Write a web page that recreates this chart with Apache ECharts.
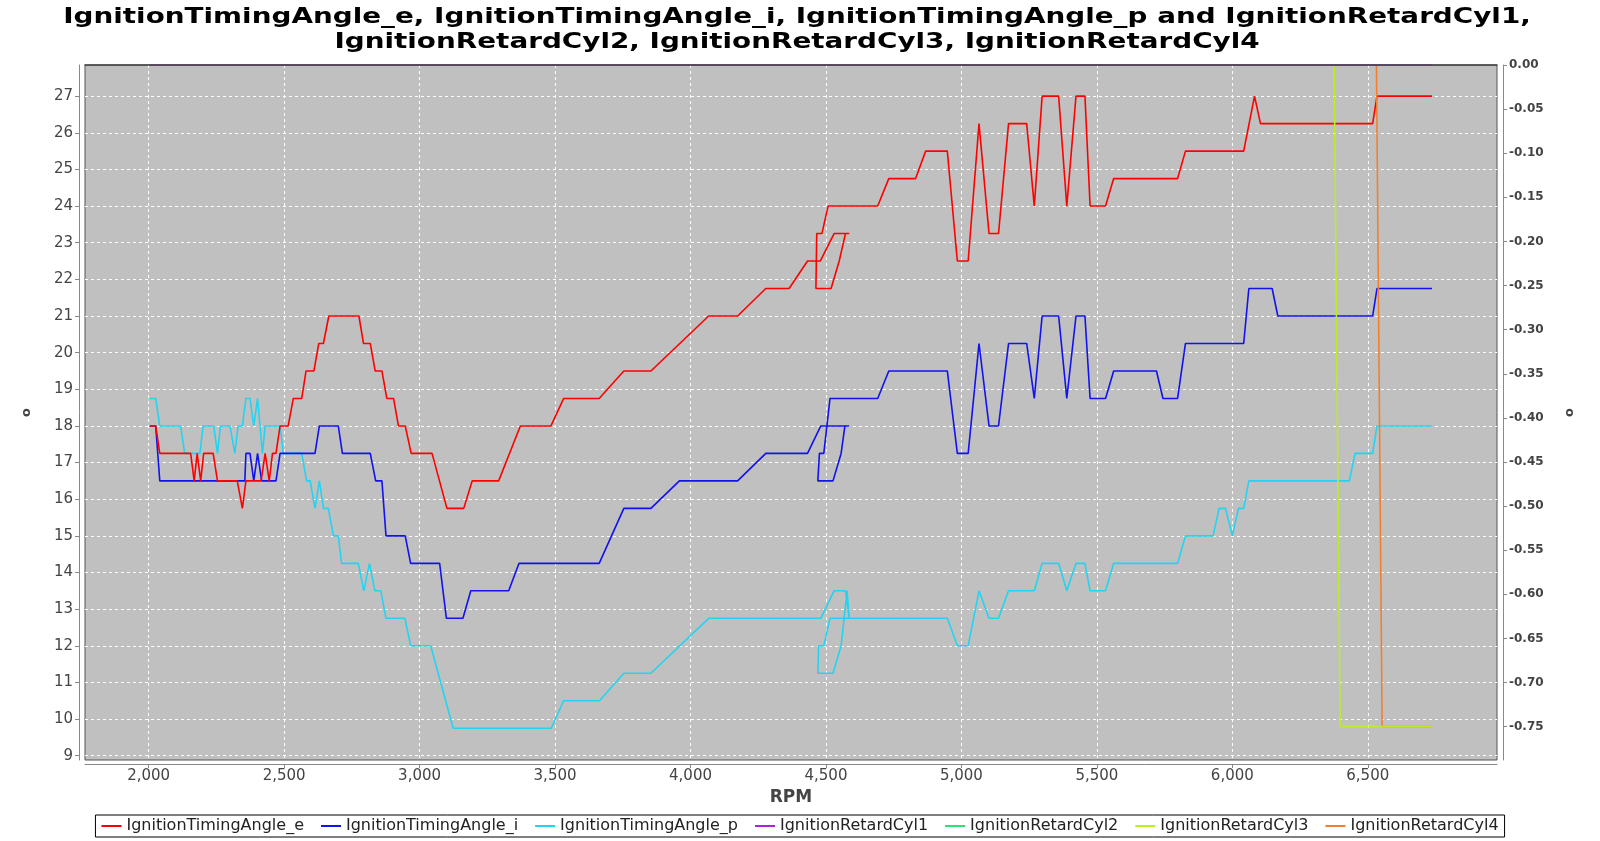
<!DOCTYPE html>
<html>
<head>
<meta charset="utf-8">
<script src="https://cdn.jsdelivr.net/npm/echarts@6.0.0/dist/echarts.min.js"></script>
<style>
html,body{margin:0;padding:0;background:#fff;}
#chart{width:1600px;height:841px;}
</style>
</head>
<body>
<div id="chart"></div>
<script>
// ---------- text ----------
const titleLines = [
  "IgnitionTimingAngle_e, IgnitionTimingAngle_i, IgnitionTimingAngle_p and IgnitionRetardCyl1,",
  "IgnitionRetardCyl2, IgnitionRetardCyl3, IgnitionRetardCyl4"
];
const seriesNames = [
  "IgnitionTimingAngle_e", "IgnitionTimingAngle_i", "IgnitionTimingAngle_p",
  "IgnitionRetardCyl1", "IgnitionRetardCyl2", "IgnitionRetardCyl3", "IgnitionRetardCyl4"
];
const xAxisName = "RPM";
const leftAxisName = "o";
const rightAxisName = "o";

// ---------- tick labels ----------
const xTicks = [2000, 2500, 3000, 3500, 4000, 4500, 5000, 5500, 6000, 6500];
const leftTicks = [9, 10, 11, 12, 13, 14, 15, 16, 17, 18, 19, 20, 21, 22, 23, 24, 25, 26, 27];
const rightTicks = [-0.75, -0.70, -0.65, -0.60, -0.55, -0.50, -0.45, -0.40, -0.35, -0.30,
                    -0.25, -0.20, -0.15, -0.10, -0.05, 0];

// ---------- series values: [RPM, value] in logged order ----------
const angleE = [
  [2004,18],[2026,18],[2041,17.25],[2155,17.25],[2168,16.5],[2179,17.25],[2192,16.5],[2203,17.25],
  [2238,17.25],[2254,16.5],[2327,16.5],[2346,15.75],[2359,16.5],[2415,16.5],[2430,17.25],[2445,16.5],
  [2457,17.25],[2470,17.25],[2485,18],[2515,18],[2534,18.75],[2565,18.75],[2581,19.5],[2610,19.5],
  [2628,20.25],[2645,20.25],[2665,21],[2776,21],[2793,20.25],[2818,20.25],[2836,19.5],[2861,19.5],
  [2879,18.75],[2904,18.75],[2922,18],[2947,18],[2969,17.25],[3046,17.25],[3101,15.75],[3163,15.75],
  [3194,16.5],[3292,16.5],[3372,18],[3485,18],[3532,18.75],[3663,18.75],[3754,19.5],[3854,19.5],
  [4067,21],[4174,21],[4278,21.75],[4364,21.75],[4432,22.5],[4479,22.5],[4530,23.25],[4586,23.25],
  [4572,23.25],[4549,22.5],[4519,21.75],[4463,21.75],[4466,23.25],[4485,23.25],[4508,24],[4691,24],
  [4732,24.75],[4831,24.75],[4868,25.5],[4948,25.5],[4985,22.5],[5025,22.5],[5065,26.25],[5102,23.25],
  [5137,23.25],[5174,26.25],[5241,26.25],[5269,24],[5298,27],[5359,27],[5389,24],[5423,27],
  [5456,27],[5475,24],[5532,24],[5562,24.75],[5798,24.75],[5827,25.5],[6042,25.5],[6082,27],
  [6104,26.25],[6518,26.25],[6534,27],[6737,27]
];
const angleI = [
  [2004,18],[2026,18],[2041,16.5],[2355,16.5],[2359,17.25],[2374,17.25],[2388,16.5],[2402,17.25],
  [2417,16.5],[2470,16.5],[2485,17.25],[2614,17.25],[2630,18],[2700,18],[2715,17.25],[2818,17.25],
  [2838,16.5],[2861,16.5],[2876,15],[2947,15],[2967,14.25],[3074,14.25],[3099,12.75],[3160,12.75],
  [3189,13.5],[3329,13.5],[3367,14.25],[3663,14.25],[3754,15.75],[3854,15.75],[3959,16.5],[4174,16.5],
  [4278,17.25],[4432,17.25],[4481,18],[4586,18],[4570,18],[4556,17.25],[4526,16.5],[4470,16.5],
  [4476,17.25],[4492,17.25],[4515,18.75],[4691,18.75],[4732,19.5],[4948,19.5],[4985,17.25],[5025,17.25],
  [5065,20.25],[5102,18],[5137,18],[5174,20.25],[5241,20.25],[5269,18.75],[5298,21],[5359,21],
  [5389,18.75],[5423,21],[5456,21],[5475,18.75],[5532,18.75],[5562,19.5],[5720,19.5],[5744,18.75],
  [5798,18.75],[5827,20.25],[6042,20.25],[6061,21.75],[6147,21.75],[6168,21],[6518,21],[6534,21.75],
  [6737,21.75]
];
const angleP = [
  [2004,18.75],[2026,18.75],[2041,18],[2118,18],[2133,17.25],[2189,17.25],[2201,18],[2240,18],
  [2254,17.25],[2265,18],[2300,18],[2318,17.25],[2330,18],[2346,18],[2359,18.75],[2374,18.75],
  [2388,18],[2402,18.75],[2420,17.25],[2430,18],[2485,18],[2497,17.25],[2565,17.25],[2583,16.5],
  [2596,16.5],[2614,15.75],[2630,16.5],[2645,15.75],[2663,15.75],[2682,15],[2700,15],[2712,14.25],
  [2774,14.25],[2794,13.5],[2815,14.25],[2835,13.5],[2857,13.5],[2876,12.75],[2946,12.75],[2967,12],
  [3041,12],[3124,9.75],[3486,9.75],[3532,10.5],[3664,10.5],[3754,11.25],[3854,11.25],[4067,12.75],
  [4481,12.75],[4530,13.5],[4572,13.5],[4586,12.75],[4578,13.5],[4556,12],[4526,11.25],[4470,11.25],
  [4473,12],[4492,12],[4515,12.75],[4948,12.75],[4985,12],[5025,12],[5065,13.5],[5102,12.75],
  [5137,12.75],[5174,13.5],[5269,13.5],[5298,14.25],[5359,14.25],[5389,13.5],[5423,14.25],[5456,14.25],
  [5475,13.5],[5532,13.5],[5562,14.25],[5798,14.25],[5827,15],[5929,15],[5951,15.75],[5975,15.75],
  [6000,15],[6023,15.75],[6042,15.75],[6061,16.5],[6432,16.5],[6453,17.25],[6518,17.25],[6534,18],
  [6737,18]
];
const retardCyl1 = [[2004,0],[6737,0]];
const retardCyl2 = [[2004,0],[6737,0]];
const retardCyl3 = [[2004,0],[6376,0],[6398,-0.75],[6737,-0.75]];
const retardCyl4 = [[2004,0],[6532,0],[6553,-0.75],[6737,-0.75]];

const seriesColors = ["#ff0000","#1212ee","#22d4f0","#b020e0","#30e070","#bbee22","#f08030"];

// ---------- build chart ----------
const FONT = "DejaVu Sans";
const gridDash = {color:"#ffffff", type:[3,3], width:1};
const datasets = [angleE, angleI, angleP, retardCyl1, retardCyl2, retardCyl3, retardCyl4];
const yIndex = [0,0,0,1,1,1,1];
const zOrder = [6,5,4,10,9,8,7];
const X_MIN = 1765, X_MAX = 6977;

const chart = echarts.init(document.getElementById("chart"));
chart.setOption({
  animation: false,
  backgroundColor: "#ffffff",
  textStyle: {fontFamily: FONT},
  graphic: [
    {type:"text", x:797, y:17, scaleX:1.265, scaleY:1,
     style:{text:titleLines[0], font:"bold 22px 'DejaVu Sans'", fill:"#000",
            align:"center", verticalAlign:"middle", textAlign:"center", textVerticalAlign:"middle"}},
    {type:"text", x:797, y:42, scaleX:1.265, scaleY:1,
     style:{text:titleLines[1], font:"bold 22px 'DejaVu Sans'", fill:"#000",
            align:"center", verticalAlign:"middle", textAlign:"center", textVerticalAlign:"middle"}}
  ],
  legend: {
    data: seriesNames,
    left: "center", top: 815,
    icon: "rect", itemWidth: 20, itemHeight: 2, itemGap: 17,
    padding: [3, 6],
    borderColor: "#000", borderWidth: 1,
    textStyle: {fontFamily: FONT, fontSize: 16, color: "#222"}
  },
  grid: {
    left: 85, right: 103, top: 65, bottom: 81,
    show: true, backgroundColor: "#c0c0c0", borderColor: "#555", borderWidth: 1
  },
  xAxis: [
    {
      type: "value", min: X_MIN, max: X_MAX, minInterval: 500, maxInterval: 500,
      offset: 4,
      name: xAxisName, nameLocation: "middle", nameGap: 24,
      nameTextStyle: {fontFamily: FONT, fontWeight: "bold", fontSize: 17, color: "#444"},
      axisLine: {show: true, onZero: false, lineStyle: {color: "#888"}},
      axisTick: {show: true, length: 4, customValues: xTicks, lineStyle: {color: "#888"}},
      axisLabel: {customValues: xTicks, fontFamily: FONT, fontSize: 15, color: "#444", margin: 5,
                  formatter: v => Number(v).toLocaleString("en-US")},
      splitLine: {show: true, lineStyle: gridDash}
    },
    {
      // plot outline along the top edge, drawn above the series like the reference frame
      type: "value", position: "top", min: X_MIN, max: X_MAX, z: 20,
      axisLine: {show: true, onZero: false, lineStyle: {color: "#444", width: 1.5}},
      axisTick: {show: false}, axisLabel: {show: false}, splitLine: {show: false}
    }
  ],
  yAxis: [
    {
      type: "value", position: "left", min: 8.883, max: 27.85, minInterval: 1, maxInterval: 1,
      offset: 6,
      name: leftAxisName, nameLocation: "middle", nameGap: 46, nameRotate: 90,
      nameTextStyle: {fontFamily: FONT, fontWeight: "bold", fontSize: 13, color: "#444"},
      axisLine: {show: true, onZero: false, lineStyle: {color: "#888"}},
      axisTick: {show: true, length: 4, customValues: leftTicks, lineStyle: {color: "#888"}},
      axisLabel: {customValues: leftTicks, fontFamily: FONT, fontSize: 15, color: "#444", margin: 6},
      splitLine: {show: true, lineStyle: gridDash}
    },
    {
      type: "value", position: "right", min: -0.7878, max: 0, minInterval: 0.05, maxInterval: 0.05,
      offset: 6,
      name: rightAxisName, nameLocation: "middle", nameGap: 60, nameRotate: 90,
      nameTextStyle: {fontFamily: FONT, fontWeight: "bold", fontSize: 13, color: "#444"},
      axisLine: {show: true, onZero: false, lineStyle: {color: "#888"}},
      axisTick: {show: true, length: 4, customValues: rightTicks, lineStyle: {color: "#888"}},
      axisLabel: {customValues: rightTicks, fontFamily: FONT, fontSize: 12, fontWeight: "bold",
                  color: "#444", margin: 6, formatter: v => Number(v).toFixed(2)},
      splitLine: {show: false}
    }
  ],
  series: seriesNames.map((name, k) => ({
    name: name,
    type: "line",
    xAxisIndex: 0,
    yAxisIndex: yIndex[k],
    data: datasets[k],
    showSymbol: false,
    symbol: "none",
    z: zOrder[k],
    color: seriesColors[k],
    lineStyle: {color: seriesColors[k], width: 1.6},
    emphasis: {disabled: true}
  }))
});
</script>
</body>
</html>
